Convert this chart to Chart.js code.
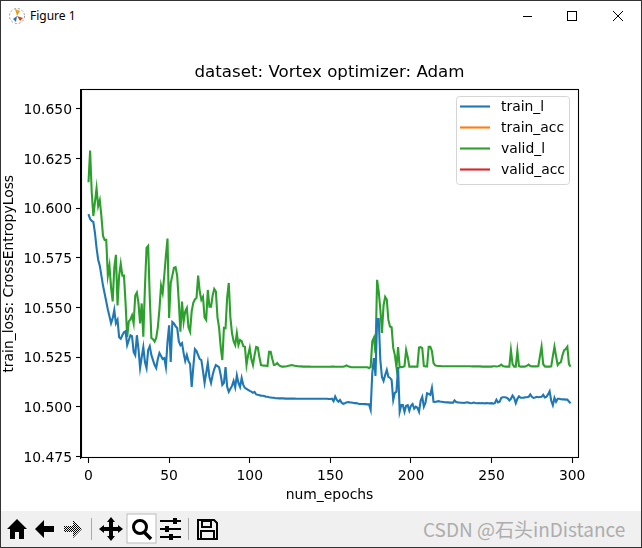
<!DOCTYPE html>
<html>
<head>
<meta charset="utf-8">
<title>Figure 1</title>
<script src="https://cdn.jsdelivr.net/npm/chart.js@4"></script>
<style>
html, body { margin: 0; padding: 0; background: #fff; }
#ventana { position: relative; width: 642px; height: 548px; overflow: hidden; background: #fff; box-sizing: border-box; }
#ventana .marco { position: absolute; left: 0; top: 0; width: 640px; height: 546px; border: 1px solid #333; pointer-events: none; }
#titulo { position: absolute; left: 30px; top: 7px; font: 12px "Noto Sans", sans-serif; color: #000; }
#grafico { position: absolute; left: 1px; top: 31px; }
#barra { position: absolute; left: 1px; top: 511px; width: 640px; height: 36px; background: #f0f0f0; }
.abs { position: absolute; }
#marca { position: absolute; left: 423px; top: 515px; font: 19px "Noto Sans CJK SC", sans-serif; color: #adadad; white-space: nowrap; }
</style>
</head>
<body>
<div id="ventana">
  <svg class="abs" style="left:8px;top:6px" width="20" height="20" viewBox="0 0 20 20">
    <circle cx="9" cy="10" r="7.5" fill="none" stroke="#999" stroke-width="1" stroke-dasharray="2 2"/>
    <path d="M9 10 L7 3 L12 5 Z" fill="#e8a020"/><path d="M9 10 L15 12 L12 15 Z" fill="#d04a10"/>
    <path d="M9 10 L5 13 L8 16 Z" fill="#2a70b0"/>
  </svg>
  <div id="titulo">Figure 1</div>
  <svg class="abs" style="left:520px;top:8px" width="110" height="16" viewBox="0 0 110 16" fill="none" stroke="#000" stroke-width="1">
    <path d="M3 8.5 H12"/><rect x="47.5" y="3.5" width="9" height="9"/><path d="M93 3 L103 13 M103 3 L93 13"/>
  </svg>
  <canvas id="grafico" width="640" height="480"></canvas>
  <div id="barra"></div>
  <svg class="abs" style="left:1px;top:511px" width="220" height="36" viewBox="0 0 220 36">
    <defs>
      <pattern id="tramado" width="2" height="2" patternUnits="userSpaceOnUse">
        <rect width="1" height="1" fill="#000"/><rect x="1" y="1" width="1" height="1" fill="#000"/>
      </pattern>
    </defs>
    <rect x="126" y="3" width="29" height="29" fill="#fff" stroke="#bbb"/>
    <path d="M16 8 L6 18 H9 V28 H14 V21 H18 V28 H23 V18 H26 Z" fill="#000"/>
    <path d="M34 18 L43 9 V15 H53 V21 H43 V27 Z" fill="#000"/>
    <path d="M81 18 L72 9 V15 H63 V21 H72 V27 Z" fill="url(#tramado)"/>
    <path d="M90.5 7 V29" stroke="#aaa"/>
    <path d="M110 6 L114 11 H112 V16 H117 V14 L122 18 L117 22 V20 H112 V25 H114 L110 30 L106 25 H108 V20 H103 V22 L98 18 L103 14 V16 H108 V11 H106 Z" fill="#000"/>
    <circle cx="139" cy="16" r="6.5" fill="none" stroke="#000" stroke-width="3"/>
    <path d="M143 21 L150 28" stroke="#000" stroke-width="3.5"/>
    <path d="M159 10 H180 M159 18 H180 M159 26 H180" stroke="#000" stroke-width="2"/>
    <rect x="172" y="7" width="4" height="6" fill="#000"/><rect x="164" y="15" width="4" height="6" fill="#000"/><rect x="168" y="23" width="4" height="6" fill="#000"/>
    <path d="M187.5 7 V29" stroke="#aaa"/>
    <path d="M197 9 H213 L216 12 V28 H197 Z" fill="none" stroke="#000" stroke-width="2"/>
    <rect x="201" y="10" width="9" height="6" fill="none" stroke="#000" stroke-width="2"/>
    <rect x="200" y="20" width="13" height="8" fill="none" stroke="#000" stroke-width="2"/>
  </svg>
  <div id="marca">CSDN @石头inDistance</div>
  <div class="marco"></div>
</div>
<script>
// Curvas, un valor por epoca
const trainLoss = [
  10.597, 10.5945, 10.5935, 10.593, 10.5875, 10.580, 10.574, 10.571, 10.566, 10.561,
  10.557, 10.553, 10.549, 10.5455, 10.542, 10.5445, 10.5487, 10.542, 10.5437, 10.535,
  10.5342, 10.536, 10.5375, 10.538, 10.531, 10.5335, 10.536, 10.5355, 10.5276, 10.526,
  10.536, 10.529, 10.5195, 10.525, 10.530, 10.5225, 10.5195, 10.5285, 10.5305, 10.526,
  10.5235, 10.521, 10.5195, 10.524, 10.527, 10.5255, 10.524, 10.5245, 10.520, 10.5325,
  10.541, 10.5225, 10.5427, 10.542, 10.5405, 10.5397, 10.533, 10.531, 10.532, 10.527,
  10.523, 10.526, 10.523, 10.5215, 10.510, 10.520, 10.529, 10.528, 10.526, 10.524,
  10.5235, 10.518, 10.512, 10.517, 10.522, 10.515, 10.512, 10.516, 10.519, 10.521,
  10.5205, 10.5198, 10.516, 10.511, 10.512, 10.520, 10.510, 10.5075, 10.509, 10.5105,
  10.513, 10.5098, 10.5158, 10.512, 10.510, 10.5145, 10.511, 10.5095, 10.509, 10.5085,
  10.508, 10.5076, 10.507, 10.5075, 10.5062, 10.506, 10.5058, 10.5056, 10.5055, 10.5054,
  10.505, 10.505, 10.5048, 10.5047, 10.5045, 10.5045, 10.5043, 10.5043, 10.5042, 10.5042,
  10.5042, 10.5042, 10.5041, 10.5041, 10.5041, 10.5041, 10.5041, 10.5041, 10.5041, 10.504,
  10.504, 10.504, 10.504, 10.504, 10.504, 10.504, 10.504, 10.504, 10.504, 10.504,
  10.504, 10.504, 10.504, 10.504, 10.504, 10.504, 10.504, 10.504, 10.504, 10.5039,
  10.5039, 10.5041, 10.5028, 10.5051, 10.5034, 10.5025, 10.5034, 10.502, 10.5015, 10.5018,
  10.5022, 10.5024, 10.5022, 10.5021, 10.502, 10.5018, 10.5018, 10.5016, 10.5014, 10.5014,
  10.5014, 10.5013, 10.5013, 10.5012, 10.5012, 10.4985, 10.517, 10.5245, 10.5155, 10.5442,
  10.5442, 10.5235, 10.515, 10.513, 10.516, 10.5185, 10.515, 10.5145, 10.5135, 10.5034,
  10.507, 10.5076, 10.520, 10.4975, 10.5008, 10.5008, 10.4975, 10.5005, 10.5008, 10.498,
  10.5005, 10.5014, 10.499, 10.500, 10.4995, 10.4975, 10.503, 10.505, 10.500, 10.502,
  10.5068, 10.5065, 10.506, 10.5095, 10.5025, 10.5024, 10.5026, 10.5028, 10.5026, 10.5025,
  10.5024, 10.5023, 10.5022, 10.5022, 10.5021, 10.5021, 10.502, 10.5032, 10.5024, 10.5022,
  10.5021, 10.502, 10.502, 10.5019, 10.5021, 10.5022, 10.502, 10.5018, 10.5019, 10.5021,
  10.5019, 10.5018, 10.5019, 10.5018, 10.5019, 10.5018, 10.5017, 10.5019, 10.5018, 10.5017,
  10.5018, 10.5016, 10.5018, 10.5035, 10.5022, 10.5025, 10.5045, 10.5048, 10.5048, 10.5047,
  10.5042, 10.5032, 10.504, 10.5056, 10.5044, 10.5018, 10.504, 10.5052, 10.5045, 10.5045,
  10.5046, 10.5048, 10.5048, 10.505, 10.5062, 10.505, 10.5045, 10.5047, 10.505, 10.5048,
  10.5049, 10.505, 10.506, 10.5047, 10.505, 10.5062, 10.5078, 10.503, 10.5008, 10.5045,
  10.5025, 10.504, 10.504, 10.5038, 10.5037, 10.5037, 10.5036, 10.5036, 10.5026, 10.5018
];
const validLoss = [
  10.613, 10.629, 10.608, 10.596, 10.603, 10.610, 10.601, 10.604, 10.596, 10.586,
  10.584, 10.584, 10.566, 10.571, 10.560, 10.553, 10.570, 10.5765, 10.551, 10.566,
  10.572, 10.566, 10.566, 10.552, 10.535, 10.543, 10.544, 10.546, 10.542, 10.556,
  10.5575, 10.552, 10.542, 10.552, 10.5353, 10.560, 10.580, 10.581, 10.555, 10.5346,
  10.534, 10.5328, 10.5346, 10.540, 10.549, 10.561, 10.5573, 10.566, 10.576, 10.5847,
  10.5447, 10.5623, 10.566, 10.570, 10.5703, 10.566, 10.553, 10.5378, 10.5529, 10.5428,
  10.548, 10.5497, 10.540, 10.5378, 10.548, 10.5523, 10.554, 10.5548, 10.566, 10.558,
  10.5538, 10.5554, 10.545, 10.5437, 10.5588, 10.5504, 10.5504, 10.556, 10.5593, 10.558,
  10.545, 10.5397, 10.530, 10.5235, 10.5397, 10.5395, 10.555, 10.5623, 10.545, 10.5371,
  10.533, 10.5311, 10.5371, 10.5311, 10.5336, 10.533, 10.5305, 10.5302, 10.521, 10.526,
  10.5296, 10.524, 10.521, 10.526, 10.5301, 10.5298, 10.525, 10.521, 10.5208, 10.5207,
  10.5206, 10.5205, 10.5277, 10.5277, 10.524, 10.521, 10.5212, 10.522, 10.521, 10.5205,
  10.5202, 10.5202, 10.5203, 10.5204, 10.5206, 10.5208, 10.521, 10.5208, 10.5206, 10.5205,
  10.5204, 10.5203, 10.5203, 10.5202, 10.5202, 10.5202, 10.5202, 10.5202, 10.5201, 10.5201,
  10.5201, 10.5201, 10.5201, 10.5201, 10.5201, 10.5201, 10.5201, 10.5201, 10.5201, 10.5201,
  10.5201, 10.5202, 10.5202, 10.5201, 10.5201, 10.5201, 10.5201, 10.5201, 10.5201, 10.5204,
  10.5208, 10.5204, 10.5201, 10.5199, 10.5199, 10.5199, 10.5199, 10.5199, 10.5199, 10.5199,
  10.5199, 10.5199, 10.5199, 10.5199, 10.5195, 10.520, 10.533, 10.5348, 10.527, 10.5639,
  10.558, 10.549, 10.5371, 10.551, 10.5553, 10.554, 10.5437, 10.5404, 10.540, 10.5296,
  10.526, 10.520, 10.530, 10.5198, 10.520, 10.520, 10.5205, 10.5286, 10.525, 10.5202,
  10.5202, 10.5202, 10.5202, 10.5202, 10.5202, 10.5298, 10.530, 10.5295, 10.5205, 10.5203,
  10.5203, 10.5302, 10.5302, 10.528, 10.522, 10.5208, 10.5206, 10.5205, 10.5205, 10.5204,
  10.5204, 10.5204, 10.5204, 10.5204, 10.5204, 10.5204, 10.5204, 10.5204, 10.5204, 10.5204,
  10.5204, 10.5204, 10.5204, 10.5204, 10.5204, 10.5204, 10.5204, 10.5204, 10.5203, 10.5203,
  10.5203, 10.5203, 10.5203, 10.5203, 10.5202, 10.5202, 10.5202, 10.5202, 10.5202, 10.5202,
  10.5202, 10.5204, 10.5204, 10.5203, 10.5204, 10.5206, 10.5212, 10.5205, 10.5203, 10.5202,
  10.5202, 10.5202, 10.5285, 10.5215, 10.5202, 10.5202, 10.5282, 10.5205, 10.5202, 10.5202,
  10.5202, 10.5203, 10.5207, 10.5212, 10.5205, 10.5203, 10.5203, 10.5203, 10.5203, 10.5205,
  10.5255, 10.5302, 10.5215, 10.5203, 10.5202, 10.5202, 10.5202, 10.5203, 10.5255, 10.5302,
  10.5255, 10.521, 10.522, 10.5225, 10.526, 10.5285, 10.529, 10.5302, 10.5215, 10.5202
];
// train_acc y valid_acc quedan fuera del rango visible, solo salen en la leyenda
const trainAcc = [];
const validAcc = [];
const nombres = ['train_l', 'train_acc', 'valid_l', 'valid_acc'];
const colores = ['#1f77b4', '#ff7f0e', '#2ca02c', '#d62728'];
const ticksX = [0, 50, 100, 150, 200, 250, 300];
const ticksY = [10.475, 10.5, 10.525, 10.55, 10.575, 10.6, 10.625, 10.65];

const fuente = 'DejaVu Sans';
const series = [trainLoss, trainAcc, validLoss, validAcc];

// Marco superior y derecho, y la leyenda dentro del grafico
const marcoYLeyenda = {
    id: 'marcoYLeyenda',
    afterUpdate(chart) {
        // las etiquetas del eje y van un poco mas abajo en la original
        chart.scales.y.getLabelItems().forEach(function(item) {
            item.textOffset += 1.5;
        });
    },
    afterDraw(chart) {
        const c = chart.ctx, a = chart.chartArea;
        c.save();
        c.strokeStyle = '#000';
        c.lineWidth = 1.1;
        c.strokeRect(Math.floor(a.left) + 0.5, Math.floor(a.top) + 0.5, Math.round(a.right - a.left), Math.round(a.bottom - a.top));

        c.fillStyle = 'rgba(255,255,255,0.8)';
        c.strokeStyle = '#d5d5d5';
        c.lineWidth = 1;
        c.beginPath();
        c.roundRect(455.5, 65.5, 113, 88, 3);
        c.fill();
        c.stroke();

        c.font = '13.9px "' + fuente + '"';
        c.textBaseline = 'middle';
        chart.data.datasets.forEach(function(d, i) {
            const y = 75.5 + i * 21;
            c.strokeStyle = d.borderColor;
            c.lineWidth = 2.1;
            c.beginPath();
            c.moveTo(459, y);
            c.lineTo(489, y);
            c.stroke();
            c.fillStyle = '#000';
            c.fillText(d.label, 500, y + 1);
        });
        c.restore();
    }
};

const ctx = document.getElementById('grafico').getContext('2d');
const grafico = new Chart(ctx, {
    type: 'line',
    data: {
        datasets: nombres.map(function(n, i) {
            return {
                label: n,
                data: series[i].map(function(v, e) { return { x: e, y: v }; }),
                borderColor: colores[i],
                backgroundColor: colores[i],
                borderWidth: 2.1,
                pointRadius: 0,
                tension: 0,
                fill: false
            };
        })
    },
    options: {
        responsive: false,
        animation: false,
        layout: { padding: { left: 0, right: 63, top: 0, bottom: 0 } },
        plugins: {
            legend: { display: false },
            tooltip: { enabled: false },
            title: {
                display: true,
                text: 'dataset: Vortex optimizer: Adam',
                fullSize: false,
                color: '#000',
                font: { family: fuente, size: 16.67, weight: 'normal' },
                padding: { top: 32, bottom: 6.5 }
            }
        },
        scales: {
            x: {
                type: 'linear',
                min: -4.65,
                max: 303.6,
                afterFit: function(s) { s.height = 53; },
                afterBuildTicks: function(s) { s.ticks = ticksX.map(function(v) { return { value: v }; }); },
                border: { display: true, color: '#000', width: 1.1 },
                grid: { drawOnChartArea: false, drawTicks: true, tickLength: 5, tickColor: '#000', tickWidth: 1.1 },
                ticks: { color: '#000', font: { family: fuente, size: 13.9 }, padding: 5, maxRotation: 0, autoSkip: false },
                title: {
                    display: true,
                    text: 'num_epochs',
                    color: '#000',
                    font: { family: fuente, size: 13.9 },
                    padding: { top: 0, bottom: 7 }
                }
            },
            y: {
                type: 'linear',
                min: 10.4742,
                max: 10.6597,
                afterFit: function(s) { s.width = 80; },
                afterBuildTicks: function(s) { s.ticks = ticksY.map(function(v) { return { value: v }; }); },
                border: { display: true, color: '#000', width: 1.1 },
                grid: { drawOnChartArea: false, drawTicks: true, tickLength: 5, tickColor: '#000', tickWidth: 1.1 },
                ticks: {
                    color: '#000',
                    font: { family: fuente, size: 13.9 },
                    padding: 4,
                    autoSkip: false,
                    callback: function(v) { return v.toFixed(3); }
                },
                title: {
                    display: true,
                    text: 'train_loss: CrossEntropyLoss',
                    color: '#000',
                    font: { family: fuente, size: 13.9 },
                    padding: { top: 0, bottom: 0 }
                }
            }
        }
    },
    plugins: [marcoYLeyenda]
});
</script>
</body>
</html>
